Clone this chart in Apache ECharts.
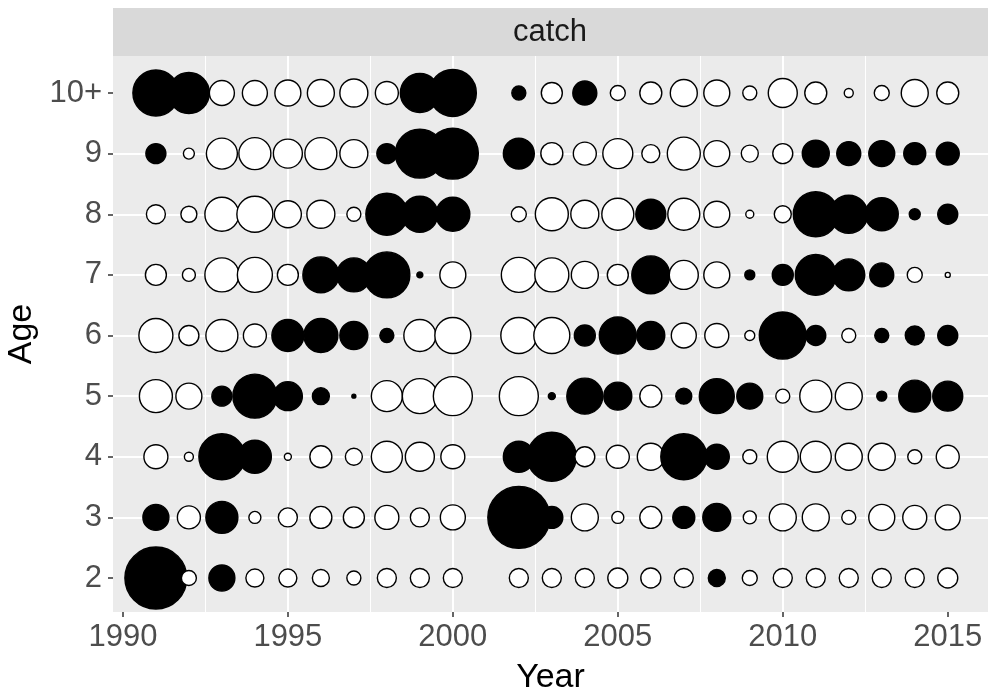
<!DOCTYPE html>
<html>
<head>
<meta charset="utf-8">
<script src="https://cdn.jsdelivr.net/npm/echarts@6/dist/echarts.min.js"></script>
<style>html,body{margin:0;padding:0;background:#fff}#c{width:988px;height:696px}</style>
</head>
<body>
<div id="c"></div>
<script>
// Years with observations (2001 missing)
const years = [1991,1992,1993,1994,1995,1996,1997,1998,1999,2000,
               2002,2003,2004,2005,2006,2007,2008,2009,2010,2011,2012,2013,2014,2015];
const ageLabels = ['2','3','4','5','6','7','8','9','10+'];
const xTicks = [1990,1995,2000,2005,2010,2015];
const yTicks = [1,2,3,4,5,6,7,8,9];
const panelTitle = 'catch';

// Residual-like values read from the bubbles (positive = filled black, negative = open)
const age2  = [ 6.3,-1.6, 2.7,-1.9,-1.9,-1.8,-1.5,-2.0,-2.0,-2.0, -2.0,-2.0,-2.0,-2.1,-2.1,-2.0, 1.8,-1.6,-2.0,-2.0,-2.0,-2.0,-2.0,-2.1];
const age3  = [ 2.7,-2.4, 3.3,-1.3,-2.0,-2.3,-2.2,-2.5,-2.0,-2.6,  6.3, 2.3,-2.8,-1.3,-2.3, 2.3, 2.9,-1.4,-2.8,-2.8,-1.5,-2.7,-2.5,-2.6];
const age4  = [-2.5,-1.0, 4.7, 3.4,-0.8,-2.3,-1.8,-3.2,-3.0,-2.5,  3.2, 5.0,-2.1,-2.4,-2.8, 4.7, 2.6,-1.5,-3.2,-3.2,-2.8,-2.8,-1.5,-2.4];
const age5  = [-3.4,-2.7, 2.1, 4.5, 3.0, 1.8, 0.5,-3.2,-3.6,-4.0, -4.0, 0.8, 3.7, 2.9,-2.3, 1.7, 3.6, 2.7,-1.5,-3.3,-2.8, 1.1, 3.3, 3.1];
const age6  = [-3.5,-2.1,-3.3,-2.4, 3.3, 3.5, 2.9, 1.5,-3.3,-3.7, -3.7,-3.7, 2.2, 3.8, 2.9,-2.6,-2.5,-1.1, 4.8, 2.1,-1.5, 1.5, 2.0, 2.1];
const age7  = [-2.2,-1.4,-3.5,-3.6,-2.2, 3.7, 3.5, 4.7, 0.7,-2.7, -3.6,-3.5,-2.8,-2.2, 3.9,-3.0,-2.7, 1.1, 2.2, 4.2, 3.3, 2.5,-1.6,-0.6];
const age8  = [-2.0,-1.7,-3.5,-3.7,-2.8,-2.9,-1.5, 4.3, 3.7, 3.5, -1.6,-3.4,-2.9,-3.3, 3.1,-3.3,-2.7,-0.9,-1.8, 4.6, 3.9, 3.4, 1.2, 2.1];
const age9  = [ 2.1,-1.2,-3.2,-3.3,-3.0,-3.3,-2.9, 2.1, 5.0, 5.2,  3.2,-2.3,-2.4,-3.1,-1.9,-3.4,-2.7,-1.8,-2.1, 2.8, 2.5, 2.7, 2.3, 2.4];
const age10 = [ 4.7, 4.2,-2.6,-2.6,-2.7,-2.8,-2.9,-2.4, 4.0, 4.8,  1.5,-2.2, 2.5,-1.6,-2.3,-2.8,-2.7,-1.5,-3.0,-2.3,-1.0,-1.6,-2.8,-2.3];
const rows = [age2, age3, age4, age5, age6, age7, age8, age9, age10];

// data ordered by year, then age (later years drawn on top)
const data = [];
years.forEach((yr, i) => {
  rows.forEach((row, a) => { data.push([yr, a + 1, row[i]]); });
});

const FONT = '"Liberation Sans", Arial, sans-serif';
const chart = echarts.init(document.getElementById('c'), null, {renderer: 'canvas'});
chart.setOption({
  animation: false,
  backgroundColor: '#ffffff',
  grid: {left: 113, right: 0, top: 56, bottom: 84, show: true, backgroundColor: '#EBEBEB', borderWidth: 0,
         containLabel: false, outerBoundsMode: 'none'},
  graphic: [
    {type: 'rect', shape: {x: 113, y: 8, width: 875, height: 48}, style: {fill: '#D9D9D9'}, silent: true},
    {type: 'text', x: 550, y: 32, style: {text: panelTitle, fontSize: 31, fontFamily: FONT, fill: '#1A1A1A', align: 'center', verticalAlign: 'middle'}, silent: true}
  ],
  xAxis: {
    type: 'value', min: 1989.7, max: 2016.22, splitNumber: 5,
    name: 'Year', nameLocation: 'middle', nameGap: 49,
    nameTextStyle: {fontSize: 34, color: '#000', fontFamily: FONT},
    axisLine: {show: false},
    axisTick: {show: true, length: 5, lineStyle: {color: '#333333', width: 1.5}, customValues: xTicks},
    axisLabel: {fontSize: 31, color: '#4D4D4D', fontFamily: FONT, margin: 10, customValues: xTicks,
                formatter: v => String(v)},
    splitLine: {show: true, showMinLine: false, showMaxLine: false, lineStyle: {color: '#FFFFFF', width: 2}},
    minorTick: {show: false, splitNumber: 2},
    minorSplitLine: {show: true, lineStyle: {color: '#FFFFFF', width: 1}}
  },
  yAxis: {
    type: 'value', min: 0.44, max: 9.61, splitNumber: 9,
    name: 'Age', nameLocation: 'middle', nameGap: 74, nameRotate: 90,
    nameTextStyle: {fontSize: 34, color: '#000', fontFamily: FONT},
    axisLine: {show: false},
    axisTick: {show: true, length: 5, lineStyle: {color: '#333333', width: 1.5}, customValues: yTicks},
    axisLabel: {fontSize: 31, color: '#4D4D4D', fontFamily: FONT, margin: 11, customValues: yTicks,
                formatter: v => ageLabels[Math.round(v) - 1] || ''},
    splitLine: {show: true, showMinLine: false, showMaxLine: false, lineStyle: {color: '#FFFFFF', width: 2}}
  },
  series: [{
    type: 'scatter',
    symbol: 'circle',
    data: data,
    symbolSize: d => Math.max(Math.abs(d[2]) * 10 - 1, 2),
    itemStyle: {
      color: p => (p.data[2] > 0 ? '#000000' : '#FFFFFF'),
      borderColor: '#000000',
      borderWidth: 1.4,
      opacity: 1
    },
    emphasis: {disabled: true}
  }]
});
</script>
</body>
</html>
